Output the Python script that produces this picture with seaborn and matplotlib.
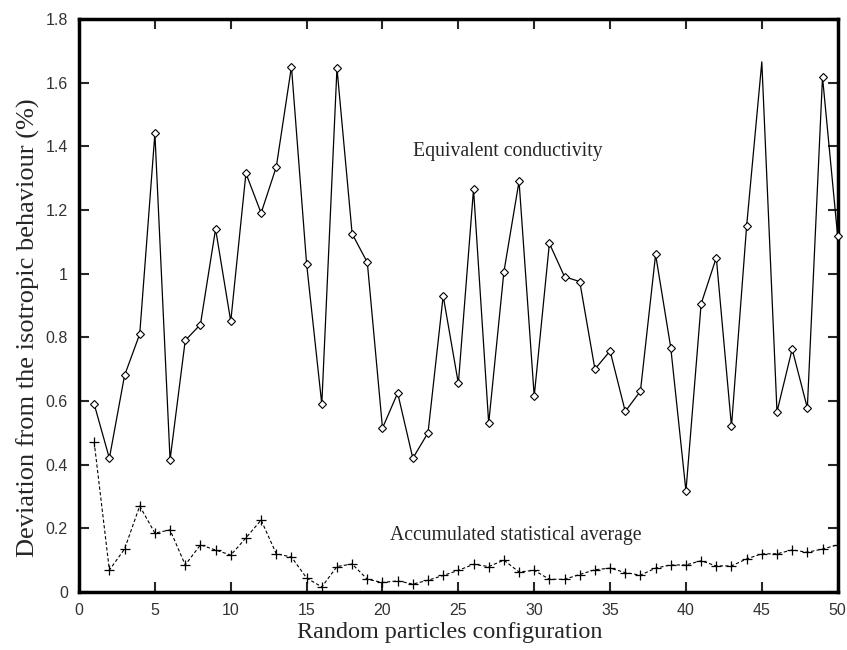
import numpy as np
import pandas as pd
import matplotlib
matplotlib.use('Agg')
import matplotlib.pyplot as plt
import seaborn as sns

# Dữ liệu
config = list(range(1, 51))
conductivity = [0.59, 0.42, 0.68, 0.81, 1.44, 0.415, 0.79, 0.84, 1.14, 0.85,
                1.315, 1.19, 1.335, 1.65, 1.03, 0.59, 1.645, 1.125, 1.035, 0.515,
                0.625, 0.42, 0.50, 0.93, 0.655, 1.265, 0.53, 1.005, 1.29, 0.615,
                1.095, 0.99, 0.975, 0.70, 0.757, 0.567, 0.631, 1.06, 0.767, 0.317,
                0.905, 1.05, 0.52, 1.15, 1.665, 0.566, 0.763, 0.578, 1.617, 1.117]
average = [0.47, 0.069, 0.135, 0.27, 0.185, 0.195, 0.085, 0.148, 0.132, 0.116,
           0.17, 0.226, 0.12, 0.11, 0.044, 0.016, 0.08, 0.088, 0.04, 0.03,
           0.035, 0.025, 0.037, 0.052, 0.068, 0.087, 0.08, 0.1, 0.063, 0.068,
           0.04, 0.04, 0.055, 0.07, 0.075, 0.061, 0.053, 0.075, 0.085, 0.085,
           0.098, 0.082, 0.082, 0.104, 0.12, 0.12, 0.132, 0.125, 0.135, 0.148]
x_ticks = [0, 5, 10, 15, 20, 25, 30, 35, 40, 45, 50]
y_ticks = [0, 0.2, 0.4, 0.6, 0.8, 1, 1.2, 1.4, 1.6, 1.8]

df = pd.DataFrame({'config': config, 'conductivity': conductivity, 'average': average})

sns.set_style('ticks')
plt.rcParams['font.family'] = ['Liberation Sans', 'DejaVu Sans']

fig = plt.figure(figsize=(8.47, 6.5), dpi=100)
ax = fig.add_axes([0.0933, 0.0892, 0.8957, 0.8818])

# Đường độ dẫn tương đương (điểm 45 không có marker trong hình gốc)
shown = [i for i in range(len(config)) if config[i] != 45]
sns.lineplot(data=df, x='config', y='conductivity', ax=ax, color='black', linewidth=0.9,
             marker='D', markersize=4.2, markerfacecolor='white', markeredgecolor='black',
             markeredgewidth=0.8, markevery=shown, clip_on=False, zorder=3)
# Trung bình thống kê tích lũy
sns.lineplot(data=df, x='config', y='average', ax=ax, color='black', linewidth=0.8,
             linestyle=(0, (3, 2)), marker='+', markersize=6.5, markeredgecolor='black',
             markeredgewidth=0.9)

ax.set_xlim(0, 50)
ax.set_ylim(0, 1.8)
ax.set_xticks(x_ticks)
ax.set_yticks(y_ticks)
ax.set_yticklabels(['{:g}'.format(v) for v in y_ticks])
ax.tick_params(direction='in', top=True, right=True, length=7, width=1.5,
               labelsize=11.5, labelcolor='#333333', pad=8)
for s in ax.spines.values():
    s.set_linewidth(2.5)
    s.set_color('black')

serif = ['Liberation Serif', 'DejaVu Serif']
ax.set_xlabel('Random particles configuration', family=serif, fontsize=17.4, labelpad=3)
ax.set_ylabel('Deviation from the isotropic behaviour (%)', family=serif, fontsize=19, labelpad=4)
ax.xaxis.label.set_x(0.489)
ax.yaxis.label.set_y(0.462)
ax.text(22.0, 1.382, 'Equivalent conductivity', family=serif, fontsize=14.2, va='center')
ax.text(20.5, 0.179, 'Accumulated statistical average', family=serif, fontsize=14.2, va='center')

fig.savefig('out.png', dpi=100)
